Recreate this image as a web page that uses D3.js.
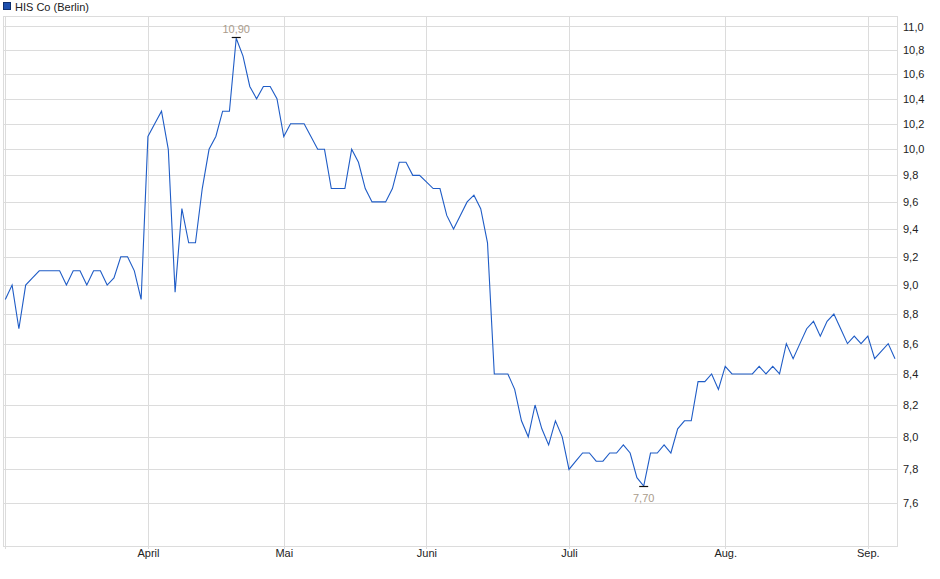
<!DOCTYPE html>
<html>
<head>
<meta charset="utf-8">
<script src="https://cdn.jsdelivr.net/npm/d3@7"></script>
<style>
  html, body { margin: 0; padding: 0; background: #fff; }
  svg { display: block; font-family: "Liberation Sans", Arial, sans-serif; }
</style>
</head>
<body>
<svg id="chart" width="940" height="579"></svg>
<script>
// ---- data ----
const seriesName = "HIS Co (Berlin)";
const prices = [
  8.9, 9.0, 8.7, 9.0, 9.05, 9.1, 9.1, 9.1, 9.1, 9.0,
  9.1, 9.1, 9.0, 9.1, 9.1, 9.0, 9.05, 9.2, 9.2, 9.1,
  8.9, 10.1, 10.2, 10.3, 10.0, 8.95, 9.55, 9.3, 9.3, 9.7,
  10.0, 10.1, 10.3, 10.3, 10.9, 10.75, 10.5, 10.4, 10.5, 10.5,
  10.4, 10.1, 10.2, 10.2, 10.2, 10.1, 10.0, 10.0, 9.7, 9.7,
  9.7, 10.0, 9.9, 9.7, 9.6, 9.6, 9.6, 9.7, 9.9, 9.9,
  9.8, 9.8, 9.75, 9.7, 9.7, 9.5, 9.4, 9.5, 9.6, 9.65,
  9.55, 9.3, 8.4, 8.4, 8.4, 8.3, 8.1, 8.0, 8.2, 8.05,
  7.95, 8.1, 8.0, 7.8, 7.85, 7.9, 7.9, 7.85, 7.85, 7.9,
  7.9, 7.95, 7.9, 7.75, 7.7, 7.9, 7.9, 7.95, 7.9, 8.05,
  8.1, 8.1, 8.35, 8.35, 8.4, 8.3, 8.45, 8.4, 8.4, 8.4,
  8.4, 8.45, 8.4, 8.45, 8.4, 8.6, 8.5, 8.6, 8.7, 8.75,
  8.65, 8.75, 8.8, 8.7, 8.6, 8.65, 8.6, 8.65, 8.5, 8.55,
  8.6, 8.5
];
const monthTickIdx = [0, 21, 41, 62, 83, 106, 127];
const monthLabels = ["", "April", "Mai", "Juni", "Juli", "Aug.", "Sep."];
const yTicks = [7.6, 7.8, 8.0, 8.2, 8.4, 8.6, 8.8, 9.0, 9.2, 9.4, 9.6, 9.8, 10.0, 10.2, 10.4, 10.6, 10.8, 11.0];

// ---- layout ----
const plot = { left: 3, top: 16, right: 898, bottom: 546 };
const svg = d3.select("#chart");

const x = d3.scaleLinear().domain([0, prices.length - 1]).range([5.3, 895]);
const y = d3.scaleLog().domain([7.35, 11.09]).range([plot.bottom, plot.top]);
const fmt = v => v.toFixed(1).replace(".", ",");
const fmt2 = v => v.toFixed(2).replace(".", ",");

// frame
svg.append("rect")
  .attr("x", plot.left + 0.5).attr("y", plot.top + 0.5)
  .attr("width", plot.right - plot.left - 1).attr("height", plot.bottom - plot.top)
  .attr("fill", "none").attr("stroke", "#dcdcdc");

// horizontal grid
const gy = svg.append("g").attr("transform", `translate(${plot.left},0)`)
  .call(d3.axisRight(y).tickValues(yTicks).tickSize(plot.right - plot.left).tickFormat(""));
gy.select(".domain").remove();
gy.selectAll("line").attr("stroke", "#dcdcdc").attr("shape-rendering", "crispEdges");

// vertical grid
const gx = svg.append("g").attr("transform", `translate(0,${plot.top})`)
  .call(d3.axisBottom(x).tickValues(monthTickIdx).tickSize(plot.bottom - plot.top + 3).tickFormat(""));
gx.select(".domain").remove();
gx.selectAll("line").attr("stroke", "#dcdcdc").attr("shape-rendering", "crispEdges");

// right axis labels
const ay = svg.append("g").attr("transform", `translate(${plot.right},0)`)
  .call(d3.axisRight(y).tickValues(yTicks).tickSize(0).tickPadding(5).tickFormat(fmt));
ay.select(".domain").remove();
ay.selectAll("text").attr("font-size", 11).attr("fill", "#222")
  .attr("font-family", "'Liberation Sans', Arial, sans-serif");

// bottom axis labels
const ax = svg.append("g").attr("transform", `translate(0,${plot.bottom})`)
  .call(d3.axisBottom(x).tickValues(monthTickIdx).tickSize(3).tickPadding(0)
    .tickFormat((d, i) => monthLabels[i]));
ax.select(".domain").remove();
ax.selectAll("line").remove();
ax.selectAll("text").attr("font-size", 11).attr("fill", "#222")
  .attr("font-family", "'Liberation Sans', Arial, sans-serif");

// price line
const line = d3.line().x((d, i) => x(i)).y(d => y(d));
svg.append("path").datum(prices)
  .attr("d", line)
  .attr("fill", "none")
  .attr("stroke", "#1f5cc6")
  .attr("stroke-width", 1.1)
  .attr("stroke-linejoin", "miter");

// max / min annotations
const maxV = d3.max(prices), minV = d3.min(prices);
const maxI = prices.indexOf(maxV), minI = prices.indexOf(minV);
const ann = svg.append("g").attr("font-family", "'Liberation Sans', Arial, sans-serif").attr("font-size", 11);
ann.append("line")
  .attr("x1", x(maxI) - 4.5).attr("x2", x(maxI) + 4.5)
  .attr("y1", Math.round(y(maxV)) - 0.5).attr("y2", Math.round(y(maxV)) - 0.5)
  .attr("stroke", "#111").attr("stroke-width", 1.2);
ann.append("text")
  .attr("x", x(maxI)).attr("y", y(maxV) - 5)
  .attr("text-anchor", "middle").attr("fill", "#aa9c8c")
  .text(fmt2(maxV));
ann.append("line")
  .attr("x1", x(minI) - 4.5).attr("x2", x(minI) + 4.5)
  .attr("y1", Math.round(y(minV)) + 0.5).attr("y2", Math.round(y(minV)) + 0.5)
  .attr("stroke", "#111").attr("stroke-width", 1.2);
ann.append("text")
  .attr("x", x(minI)).attr("y", y(minV) + 16)
  .attr("text-anchor", "middle").attr("fill", "#aa9c8c")
  .text(fmt2(minV));

// legend
const lg = svg.append("g");
lg.append("rect").attr("x", 3.5).attr("y", 2.5).attr("width", 7).attr("height", 7)
  .attr("fill", "#1d4fae").attr("stroke", "#0f2f6e");
lg.append("text").attr("x", 15).attr("y", 10.5)
  .attr("font-size", 11).attr("fill", "#222")
  .attr("font-family", "'Liberation Sans', Arial, sans-serif")
  .text(seriesName);
</script>
</body>
</html>
